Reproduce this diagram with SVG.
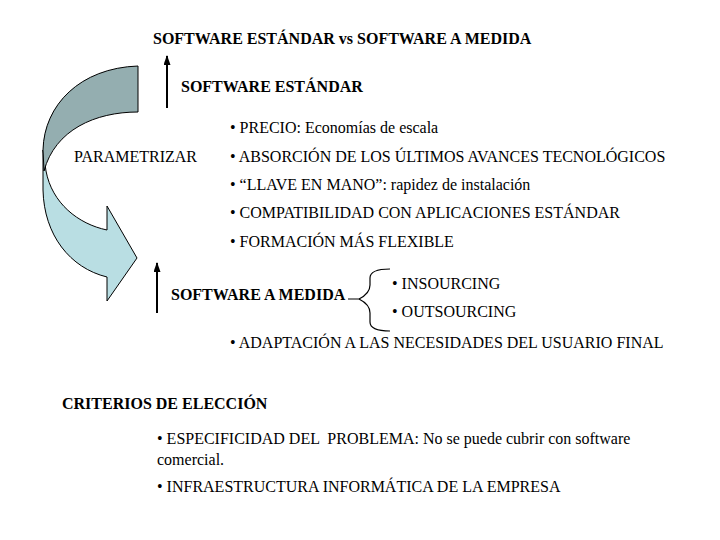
<svg xmlns="http://www.w3.org/2000/svg" width="720" height="540" viewBox="0 0 720 540">
<style>
.t{font-family:"Liberation Serif","Times New Roman",serif;font-size:16px;fill:#000}
.b{font-weight:bold}
.ln{stroke:#000;stroke-width:2;fill:none}
.br{stroke:#000;stroke-width:1.2;fill:none}
</style>
<defs>
<marker id="ah" viewBox="0 0 10 10" refX="9" refY="5" markerWidth="10" markerHeight="7" markerUnits="userSpaceOnUse" orient="auto" preserveAspectRatio="none">
<path d="M0,0 L10,5 L0,10 Z" fill="#000"/>
</marker>
</defs>
<rect width="720" height="540" fill="#fff"/>
<g id="curved-arrow">
<path d="M43,150 L43,190 C44,235 70,268 107,277 L107,301 L137,258 L107,206 L107,230 C78,224 52,203 46,171 Z" fill="#b9dee3" stroke="#000" stroke-width="1"/>
<path d="M138,66 C80,68 44,105 43,150 L44,171 C55,130 95,112 138,112 Z" fill="#94aeb0" stroke="#000" stroke-width="1"/>
</g>
<g id="connectors">
<line class="ln" x1="167" y1="108" x2="167" y2="56" marker-end="url(#ah)"/>
<line class="ln" x1="157" y1="313" x2="157" y2="263" marker-end="url(#ah)"/>
<path class="br" d="M348,299 L359,299 C365,296 370,292 370,285 L370,278 C370,272 376,269 390,269"/>
<path class="br" d="M359,299 C365,302 370,306 370,313 L370,322 C370,328 376,331 390,331"/>
</g>
<g id="title"><text class="t b" x="153" y="44">SOFTWARE ESTÁNDAR vs SOFTWARE A MEDIDA</text></g>
<g id="estandar">
<text class="t b" x="181" y="92">SOFTWARE ESTÁNDAR</text>
<text class="t" x="230" y="133">• PRECIO: Economías de escala</text>
<text class="t" x="230" y="162">• ABSORCIÓN DE LOS ÚLTIMOS AVANCES TECNOLÓGICOS</text>
<text class="t" x="230" y="190">• “LLAVE EN MANO”: rapidez de instalación</text>
<text class="t" x="230" y="218">• COMPATIBILIDAD CON APLICACIONES ESTÁNDAR</text>
<text class="t" x="230" y="247">• FORMACIÓN MÁS FLEXIBLE</text>
</g>
<g id="parametrizar"><text class="t" x="74" y="162">PARAMETRIZAR</text></g>
<g id="medida">
<text class="t b" x="171" y="300">SOFTWARE A MEDIDA</text>
<text class="t" x="392" y="289">• INSOURCING</text>
<text class="t" x="392" y="317">• OUTSOURCING</text>
<text class="t" x="230" y="348">• ADAPTACIÓN A LAS NECESIDADES DEL USUARIO FINAL</text>
</g>
<g id="criterios">
<text class="t b" x="62" y="409">CRITERIOS DE ELECCIÓN</text>
<text class="t" x="157" y="444" xml:space="preserve">• ESPECIFICIDAD DEL  PROBLEMA: No se puede cubrir con software</text>
<text class="t" x="157" y="465">comercial.</text>
<text class="t" x="157" y="492">• INFRAESTRUCTURA INFORMÁTICA DE LA EMPRESA</text>
</g>
</svg>
